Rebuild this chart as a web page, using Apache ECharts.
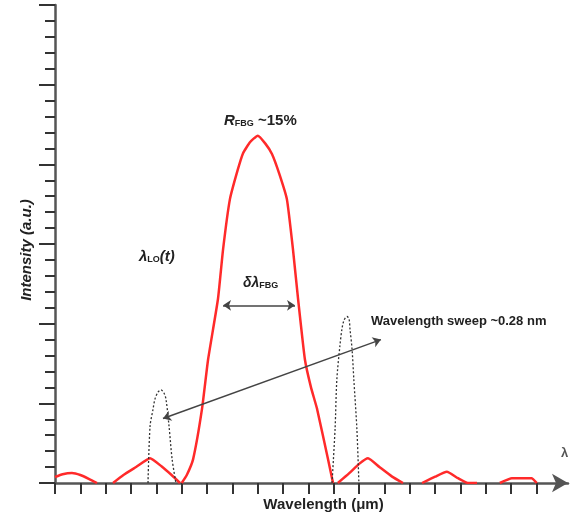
<!DOCTYPE html>
<html>
<head>
    <meta charset="utf-8">
    <title>FBG spectrum</title>
    <script src="https://cdn.jsdelivr.net/npm/echarts@6/dist/echarts.min.js"></script>
    <style>
        html, body { margin: 0; padding: 0; background: #fff; }
        #main { width: 579px; height: 517px; }
    </style>
</head>
<body>
<div id="main"></div>
<script type="text/javascript">
    // x tick positions (no labels in the figure)
    var xTicks = [0, 1, 2, 3, 4, 5, 6, 7, 8, 9, 10, 11, 12, 13, 14, 15, 16, 17, 18, 19];

    // FBG reflection spectrum (red), gaps where it sits on the axis
    var fbgSpectrum = [
        [0, 0.075], [0.3, 0.11], [0.67, 0.125], [1.0, 0.1], [1.35, 0.05], [1.66, 0], [1.9, null],
        [2.29, 0], [2.7, 0.1], [3.2, 0.2], [3.75, 0.31], [4.2, 0.21], [4.6, 0.1], [4.93, 0], [4.97, null],
        [5.0, 0], [5.2, 0.1], [5.45, 0.3], [5.8, 0.93], [6.04, 1.55], [6.43, 2.31], [6.63, 2.93],
        [6.9, 3.56], [7.2, 3.92], [7.42, 4.14], [7.7, 4.28], [8.0, 4.36], [8.3, 4.26], [8.56, 4.13],
        [8.85, 3.88], [9.15, 3.56], [9.39, 2.93], [9.59, 2.31], [9.86, 1.55], [10.1, 1.2],
        [10.34, 0.93], [10.77, 0.3], [10.97, 0], [11.05, null],
        [11.16, 0], [11.6, 0.12], [12.0, 0.24], [12.35, 0.31], [12.8, 0.2], [13.3, 0.08], [13.73, 0], [14.0, null],
        [14.48, 0], [15.0, 0.08], [15.46, 0.14], [15.9, 0.06], [16.29, 0], [16.65, 0], [17.0, null],
        [17.55, 0], [18.03, 0.06], [18.8, 0.06], [19.01, 0]
    ];

    // local oscillator line at two sweep positions (dotted)
    var loLeft = [
        [3.67, 0], [3.75, 0.71], [3.87, 0.93], [3.94, 1.05], [4.06, 1.14], [4.18, 1.17],
        [4.30, 1.13], [4.38, 1.05], [4.50, 0.71], [4.62, 0.30], [4.77, 0]
    ];
    var loRight = [
        [10.93, 0], [11.05, 0.68], [11.12, 1.30], [11.24, 1.72], [11.32, 1.93], [11.40, 2.04],
        [11.52, 2.09], [11.60, 2.06], [11.64, 1.93], [11.72, 1.68], [11.79, 1.30], [11.91, 0.68], [11.99, 0]
    ];

    // annotation arrows (data coordinates)
    var sweepArrow = [[4.26, 0.81], [12.86, 1.80]];
    var bandwidthArrow = [[6.63, 2.23], [9.47, 2.23]];

    var myChart = echarts.init(document.getElementById('main'));

    var textColor = '#222';
    var font = 'Liberation Sans, Arial, sans-serif';

    var option = {
        backgroundColor: '#fff',
        animation: false,
        grid: {
            left: 55,
            right: 11,
            top: 5,
            bottom: 33
        },
        xAxis: {
            type: 'value',
            min: 0,
            max: 20.24,
            name: 'Wavelength (\u03bcm)',
            nameLocation: 'middle',
            nameGap: 14,
            nameTextStyle: {
                color: textColor,
                fontFamily: font,
                fontWeight: 'bold',
                fontSize: 15,
                padding: [0, 0, 0, 24]
            },
            axisLine: {
                onZero: false,
                symbol: ['none', 'arrow'],
                symbolSize: [14, 16],
                lineStyle: { color: '#555', width: 2.5 }
            },
            axisTick: {
                customValues: xTicks,
                length: 11,
                lineStyle: { color: '#333', width: 2 }
            },
            axisLabel: { show: false },
            splitLine: { show: false }
        },
        yAxis: {
            type: 'value',
            min: 0,
            max: 6,
            interval: 1,
            name: 'Intensity (a.u.)',
            nameLocation: 'middle',
            nameGap: 21,
            nameTextStyle: {
                color: textColor,
                fontFamily: font,
                fontWeight: 'bold',
                fontStyle: 'italic',
                fontSize: 15,
                padding: [0, 12, 0, 0]
            },
            axisLine: {
                show: true,
                lineStyle: { color: '#555', width: 2.5 }
            },
            axisTick: {
                show: true,
                length: 16,
                lineStyle: { color: '#333', width: 2 }
            },
            minorTick: {
                show: true,
                splitNumber: 5,
                length: 10,
                lineStyle: { color: '#333', width: 2 }
            },
            axisLabel: { show: false },
            splitLine: { show: false }
        },
        series: [
            {
                name: 'FBG',
                type: 'line',
                data: fbgSpectrum,
                showSymbol: false,
                connectNulls: false,
                smooth: 0.15,
                lineStyle: { color: '#ff2a2a', width: 2.5 },
                z: 3
            },
            {
                name: 'LO1',
                type: 'line',
                data: loLeft,
                showSymbol: false,
                smooth: 0.3,
                lineStyle: { color: '#333', width: 1.3, type: [2, 2] },
                z: 4,
                markLine: {
                    silent: true,
                    symbol: ['arrow', 'arrow'],
                    symbolSize: 8,
                    label: { show: false },
                    lineStyle: { color: '#444', width: 1.5, type: 'solid' },
                    data: [
                        [{ coord: sweepArrow[0] }, { coord: sweepArrow[1] }],
                        [{ coord: bandwidthArrow[0] }, { coord: bandwidthArrow[1] }]
                    ]
                }
            },
            {
                name: 'LO2',
                type: 'line',
                data: loRight,
                showSymbol: false,
                smooth: 0.3,
                lineStyle: { color: '#333', width: 1.3, type: [2, 2] },
                z: 4
            }
        ],
        graphic: [
            {
                type: 'text',
                left: 224,
                top: 113,
                style: {
                    text: '{r|R}{s|FBG}{t| ~15%}',
                    rich: {
                        r: { fontFamily: font, fontSize: 15, fontWeight: 'bold', fontStyle: 'italic', fill: textColor },
                        s: { fontFamily: font, fontSize: 9, fontWeight: 'bold', fill: textColor, padding: [6, 0, 0, 0] },
                        t: { fontFamily: font, fontSize: 15, fontWeight: 'bold', fill: textColor }
                    }
                }
            },
            {
                type: 'text',
                left: 139,
                top: 249,
                style: {
                    text: '{r|\u03bb}{s|LO}{t|(t)}',
                    rich: {
                        r: { fontFamily: font, fontSize: 15, fontWeight: 'bold', fontStyle: 'italic', fill: textColor },
                        s: { fontFamily: font, fontSize: 9, fontWeight: 'bold', fill: textColor, padding: [6, 0, 0, 0] },
                        t: { fontFamily: font, fontSize: 15, fontWeight: 'bold', fontStyle: 'italic', fill: textColor }
                    }
                }
            },
            {
                type: 'text',
                left: 243,
                top: 276,
                style: {
                    text: '{r|\u03b4\u03bb}{s|FBG}',
                    rich: {
                        r: { fontFamily: font, fontSize: 14, fontWeight: 'bold', fontStyle: 'italic', fill: textColor },
                        s: { fontFamily: font, fontSize: 9, fontWeight: 'bold', fill: textColor, padding: [6, 0, 0, 0] }
                    }
                }
            },
            {
                type: 'text',
                left: 371,
                top: 315,
                style: {
                    text: 'Wavelength sweep ~0.28 nm',
                    fontFamily: font,
                    fontSize: 13,
                    fontWeight: 'bold',
                    fill: textColor
                }
            },
            {
                type: 'text',
                left: 561,
                top: 447,
                style: {
                    text: '\u03bb',
                    fontFamily: font,
                    fontSize: 13,
                    fontWeight: 'bold',
                    fill: '#555'
                }
            }
        ]
    };

    myChart.setOption(option);
</script>
</body>
</html>
